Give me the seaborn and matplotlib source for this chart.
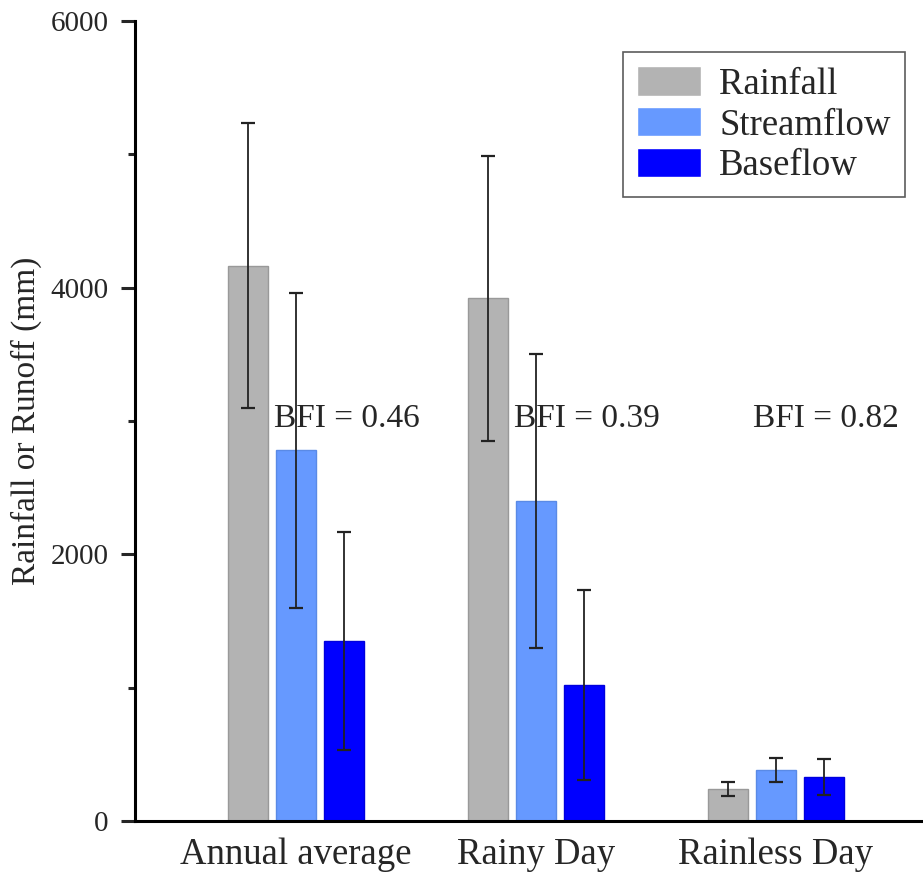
import matplotlib
matplotlib.use("Agg")
import matplotlib.pyplot as plt
import seaborn as sns
import pandas as pd
import numpy as np
from matplotlib.ticker import MultipleLocator

categories = ["Annual average", "Rainy Day", "Rainless Day"]
series = ["Rainfall", "Streamflow", "Baseflow"]
rainfall = [4165, 3920, 240]
rainfall_err = [1070, 1070, 50]
streamflow = [2780, 2400, 383]
streamflow_err = [1180, 1105, 92]
baseflow = [1350, 1020, 330]
baseflow_err = [820, 710, 135]
bfi_labels = ["BFI = 0.46", "BFI = 0.39", "BFI = 0.82"]
bfi_y = 3020

values = {"Rainfall": rainfall, "Streamflow": streamflow, "Baseflow": baseflow}
errors = {"Rainfall": rainfall_err, "Streamflow": streamflow_err, "Baseflow": baseflow_err}
rows = []
for s in series:
    for c, v in zip(categories, values[s]):
        rows.append({"category": c, "series": s, "value": v})
df = pd.DataFrame(rows)

sns.set_style("white")
plt.rcParams["font.family"] = ["Liberation Serif", "DejaVu Serif"]

colors = {"Rainfall": "#B3B3B3", "Streamflow": "#6699FF", "Baseflow": "#0000FF"}
edges = {"Rainfall": "#999999", "Streamflow": "#5A8AE6", "Baseflow": "#0000DD"}

fig = plt.figure(figsize=(9.23, 8.76), dpi=100)
ax = fig.add_axes([135 / 923, 1 - 821 / 876, 788 / 923, 800 / 876])

sns.barplot(data=df, x="category", y="value", hue="series", order=categories,
            hue_order=series, palette=colors, saturation=1, width=0.6, gap=1 / 6,
            errorbar=None, ax=ax, linewidth=1)

for cont, s in zip(ax.containers, series):
    xs, hs = [], []
    for p in cont.patches:
        p.set_edgecolor(edges[s])
        p.set_linewidth(1.0)
        xs.append(p.get_x() + p.get_width() / 2)
        hs.append(p.get_height())
    ax.errorbar(xs, hs, yerr=errors[s], fmt="none", ecolor="#222222",
                elinewidth=1.3, capsize=5, capthick=1.6, zorder=5)

for i, t in enumerate(bfi_labels):
    ax.text(i + 0.21, bfi_y, t, ha="center", va="center", fontsize=24)

ax.set_xlim(-(296 - 135) / 240, (923 - 296) / 240)
ax.set_ylim(0, 6000)
ax.yaxis.set_major_locator(MultipleLocator(2000))
ax.yaxis.set_minor_locator(MultipleLocator(1000))
ax.set_xlabel("")
ax.set_ylabel("Rainfall or Runoff (mm)", fontsize=24)
ax.yaxis.set_label_coords(-0.118, 0.5)

for side in ["top", "right"]:
    ax.spines[side].set_visible(False)
for side in ["left", "bottom"]:
    ax.spines[side].set_linewidth(2.2)
    ax.spines[side].set_color("black")

ax.tick_params(axis="y", which="major", direction="out", length=10, width=2.2,
               labelsize=21, pad=9, left=True)
ax.tick_params(axis="y", which="minor", direction="out", length=5, width=2.2, left=True)
ax.tick_params(axis="x", which="both", length=0, labelsize=26.5, pad=12)

leg = ax.legend(loc="upper right", bbox_to_anchor=(0.977, 0.961), borderaxespad=0,
                fontsize=26.5, frameon=True, fancybox=False, handlelength=1.75,
                handleheight=0.85, handletextpad=0.5, labelspacing=0.15,
                borderpad=0.38, title=None)
leg.get_frame().set_edgecolor("#333333")
leg.get_frame().set_linewidth(1.2)

fig.savefig("out.png", dpi=100)
